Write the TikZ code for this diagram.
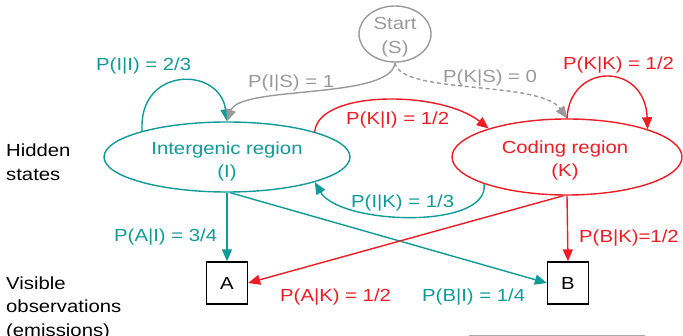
\documentclass[tikz,border=0pt]{standalone}
\usepackage{fontspec}
\setmainfont{Liberation Sans}[FakeStretch=1.16]
\usetikzlibrary{shapes.geometric,arrows.meta}
\definecolor{tealc}{HTML}{109A98}
\definecolor{redc}{HTML}{EE1C25}
\definecolor{grayc}{HTML}{9A9A9A}
\tikzset{
  every node/.style={font=\fontsize{17.5}{23.5}\selectfont, inner sep=0pt},
  state/.style={ellipse, draw, line width=1.4pt, fill=white},
  obs/.style={rectangle, draw=black, line width=1.3pt, minimum width=41pt, minimum height=42pt, text=black},
  conn/.style={line width=1.4pt, -{Triangle[length=12pt,width=10pt]}},
  lbl/.style={anchor=base west},
}
\begin{document}
\begin{tikzpicture}[x=1pt, y=-1pt]
\useasboundingbox (0,0) rectangle (683,336);

% hidden states
\node[state, draw=grayc, minimum width=72pt, minimum height=56pt] (S) at (395,34) {};
\node[state, draw=tealc, minimum width=246pt, minimum height=70pt] (I) at (227,157) {};
\node[state, draw=redc, minimum width=230pt, minimum height=76pt] (K) at (567,157) {};
\node[text=grayc, align=center] (St) at (395,37) {Start\\(S)};
\node[text=tealc, align=center] (It) at (227,161.5) {Intergenic region\\(I)};
\node[text=redc, align=center] (Kt) at (565,160.5) {Coding region\\(K)};

% observations
\node[obs] (A) at (227,283) {A};
\node[obs] (B) at (568,283) {B};

% row captions
\node[anchor=west, align=left] (hid) at (6,162) {Hidden\\states};
\node[anchor=west, align=left] (vis) at (6,308) {Visible\\observations\\(emissions)};

% transitions
\draw[conn, tealc] (I.163) .. controls (138,66) and (220,66) .. (I.north);
\draw[conn, grayc] (S.south) .. controls (392,100) and (240,85) .. (I.north);
\draw[conn, grayc, dashed, dash pattern=on 4pt off 3pt] (S.south) .. controls (400,95) and (540,80) .. (K.north);
\draw[conn, redc] (I.16.6) .. controls (318,90) and (440,90) .. (K.160.3);
\draw[conn, redc] (K.north) .. controls (570,62) and (645,62) .. (K.19.3);
\draw[conn, tealc] (K.198) .. controls (490,230) and (340,225) .. (I.-16.3);

% emissions
\draw[conn, tealc] (I.south) -- (A.north);
\draw[conn, tealc] (I.-85) -- (B.west);
\draw[conn, redc] (K.-95) -- (A.east);
\draw[conn, redc] (K.south) -- (B.north);

% probability labels
\node[lbl, text=tealc] (pII) at (96,71) {P(I|I) = 2/3};
\node[lbl, text=grayc] (pIS) at (248,88) {P(I|S) = 1};
\node[lbl, text=grayc] (pKS) at (443,83) {P(K|S) = 0};
\node[lbl, text=redc] (pKK) at (563,70) {P(K|K) = 1/2};
\node[lbl, text=redc] (pKI) at (346,125) {P(K|I) = 1/2};
\node[lbl, text=tealc] (pIK) at (351,208) {P(I|K) = 1/3};
\node[lbl, text=tealc] (pAI) at (114,242) {P(A|I) = 3/4};
\node[lbl, text=redc] (pBK) at (579,243) {P(B|K)=1/2};
\node[lbl, text=redc] (pAK) at (280,302) {P(A|K) = 1/2};
\node[lbl, text=tealc] (pBI) at (422,302) {P(B|I) = 1/4};

% edge of a frame cut off at the bottom
\draw[line width=1.2pt, color=gray!70] (469,335.6) -- (645,335.6);
\end{tikzpicture}
\end{document}
